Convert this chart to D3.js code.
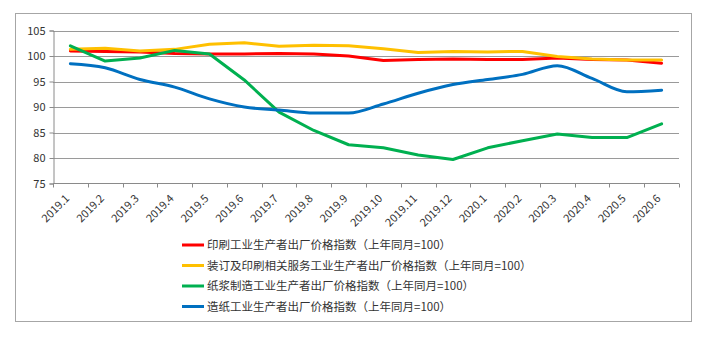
<!DOCTYPE html>
<html>
<head>
<meta charset="utf-8">
<script src="https://cdn.jsdelivr.net/npm/d3@7"></script>
<style>
  body { margin: 0; background: #fff; }
  svg text { font-family: "Noto Sans CJK SC", "Noto Sans", sans-serif; fill: #333; }
</style>
</head>
<body>
<svg id="chart" width="712" height="337"></svg>
<script>
'use strict';
var months = ['2019.1', '2019.2', '2019.3', '2019.4', '2019.5', '2019.6', '2019.7', '2019.8', '2019.9',
    '2019.10', '2019.11', '2019.12', '2020.1', '2020.2', '2020.3', '2020.4', '2020.5', '2020.6'];
var yTicks = [75, 80, 85, 90, 95, 100, 105];

var printing = [101.0, 100.9, 100.8, 100.5, 100.4, 100.4, 100.5, 100.4, 100.0, 99.1, 99.3, 99.4, 99.3, 99.3, 99.6, 99.3, 99.2, 98.6];
var binding = [101.3, 101.5, 101.0, 101.3, 102.3, 102.6, 101.9, 102.1, 102.0, 101.4, 100.7, 100.9, 100.8, 100.9, 99.9, 99.4, 99.2, 99.2];
var pulp = [102.0, 99.0, 99.6, 101.1, 100.4, 95.3, 89.0, 85.4, 82.6, 82.0, 80.6, 79.7, 82.0, 83.4, 84.7, 84.0, 84.0, 86.7];
var paper = [98.5, 97.7, 95.4, 93.9, 91.6, 90.0, 89.4, 88.8, 88.8, 90.6, 92.7, 94.4, 95.4, 96.4, 98.1, 95.6, 93.0, 93.3];

var seriesNames = [
    '印刷工业生产者出厂价格指数（上年同月=100）',
    '装订及印刷相关服务工业生产者出厂价格指数（上年同月=100）',
    '纸浆制造工业生产者出厂价格指数（上年同月=100）',
    '造纸工业生产者出厂价格指数（上年同月=100）'
];
var seriesColors = ['#ff0000', '#ffc000', '#00b050', '#0070c0'];
var seriesData = [printing, binding, pulp, paper];

var svg = d3.select('#chart');

// outer frame
svg.append('rect')
        .attr('x', 15.5).attr('y', 13.5)
        .attr('width', 676).attr('height', 308)
        .attr('fill', '#fff').attr('stroke', '#a6a6a6').attr('stroke-width', 1);

var margin = {left: 53, right: 679, top: 30.5, bottom: 183.5};
var x = d3.scaleBand().domain(months).range([margin.left, margin.right]);
var y = d3.scaleLinear().domain([75, 105]).range([margin.bottom, margin.top]);

// gridlines
svg.append('g')
        .selectAll('line')
        .data(yTicks.filter(function (d) { return d !== 75; }))
        .enter().append('line')
        .attr('x1', margin.left).attr('x2', margin.right)
        .attr('y1', function (d) { return Math.round(y(d)) + 0.5; })
        .attr('y2', function (d) { return Math.round(y(d)) + 0.5; })
        .attr('stroke', '#9a9a9a').attr('stroke-width', 1);

// y axis
var yAxis = d3.axisLeft(y).tickValues(yTicks).tickSize(4).tickPadding(4);
var gy = svg.append('g')
        .attr('transform', 'translate(' + (margin.left + 0.5) + ',0)')
        .call(yAxis);
gy.select('.domain').attr('stroke', '#8a8a8a');
gy.selectAll('.tick line').attr('stroke', '#8a8a8a');
gy.selectAll('.tick text').attr('font-size', 11).style('fill', '#333');

// x axis
var gx = svg.append('g').attr('transform', 'translate(0,' + margin.bottom + ')');
gx.append('line')
        .attr('x1', margin.left).attr('x2', margin.right)
        .attr('y1', 0).attr('y2', 0)
        .attr('stroke', '#8a8a8a');
var bounds = months.map(function (d) { return x(d); }).concat([margin.right]);
gx.selectAll('.tk')
        .data(bounds)
        .enter().append('line')
        .attr('class', 'tk')
        .attr('x1', function (d) { return Math.round(d) + 0.5; })
        .attr('x2', function (d) { return Math.round(d) + 0.5; })
        .attr('y1', 0).attr('y2', 4)
        .attr('stroke', '#8a8a8a');
gx.selectAll('.lbl')
        .data(months)
        .enter().append('text')
        .attr('class', 'lbl')
        .attr('font-size', 11)
        .attr('text-anchor', 'end')
        .attr('transform', function (d) {
            return 'translate(' + (x(d) + x.bandwidth() / 2 - 3) + ',13) rotate(-45)';
        })
        .attr('dy', '0.35em')
        .text(function (d) { return d; });

// lines
var line = d3.line()
        .x(function (d, i) { return x(months[i]) + x.bandwidth() / 2; })
        .y(function (d) { return y(d); });
var smoothLine = d3.line()
        .curve(d3.curveMonotoneX)
        .x(function (d, i) { return x(months[i]) + x.bandwidth() / 2; })
        .y(function (d) { return y(d); });

seriesData.forEach(function (data, i) {
    svg.append('path')
            .datum(data)
            .attr('fill', 'none')
            .attr('stroke', seriesColors[i])
            .attr('stroke-width', 3)
            .attr('stroke-linejoin', 'round')
            .attr('stroke-linecap', 'round')
            .attr('d', i === 3 ? smoothLine : line);
});

// legend
var legend = svg.append('g');
seriesNames.forEach(function (name, i) {
    var ly = 245 + i * 20.5;
    legend.append('line')
            .attr('x1', 182).attr('x2', 204)
            .attr('y1', ly).attr('y2', ly)
            .attr('stroke', seriesColors[i]).attr('stroke-width', 3);
    legend.append('text')
            .attr('x', 207).attr('y', ly)
            .attr('dy', '0.35em')
            .attr('font-size', 11.5)
            .text(name);
});
</script>
</body>
</html>
